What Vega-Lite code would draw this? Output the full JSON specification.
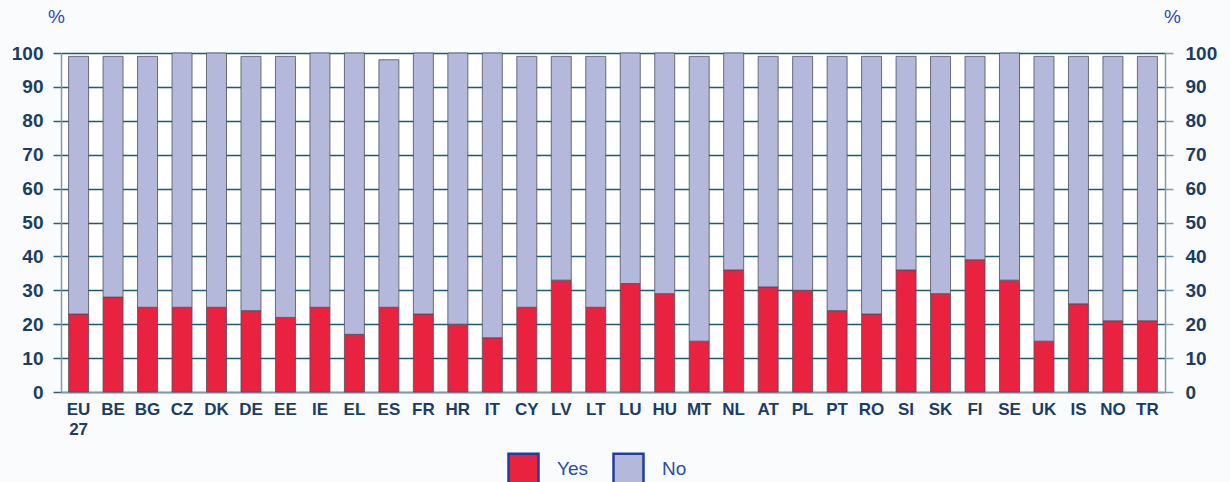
{
  "$schema": "https://vega.github.io/schema/vega-lite/v6.json",
  "width": 1104,
  "height": 339,
  "autosize": {"type": "none"},
  "padding": {"left": 61, "top": 53, "right": 65, "bottom": 90},
  "background": "#fafbfd",
  "config": {
    "view": {"stroke": null, "fill": "#ffffff"},
    "font": "Liberation Sans"
  },
  "data": {
    "values": [
      {"c": "EU|27", "Yes": 23, "No": 76},
      {"c": "BE", "Yes": 28, "No": 71},
      {"c": "BG", "Yes": 25, "No": 74},
      {"c": "CZ", "Yes": 25, "No": 75},
      {"c": "DK", "Yes": 25, "No": 75},
      {"c": "DE", "Yes": 24, "No": 75},
      {"c": "EE", "Yes": 22, "No": 77},
      {"c": "IE", "Yes": 25, "No": 75},
      {"c": "EL", "Yes": 17, "No": 83},
      {"c": "ES", "Yes": 25, "No": 73},
      {"c": "FR", "Yes": 23, "No": 77},
      {"c": "HR", "Yes": 20, "No": 80},
      {"c": "IT", "Yes": 16, "No": 84},
      {"c": "CY", "Yes": 25, "No": 74},
      {"c": "LV", "Yes": 33, "No": 66},
      {"c": "LT", "Yes": 25, "No": 74},
      {"c": "LU", "Yes": 32, "No": 68},
      {"c": "HU", "Yes": 29, "No": 71},
      {"c": "MT", "Yes": 15, "No": 84},
      {"c": "NL", "Yes": 36, "No": 64},
      {"c": "AT", "Yes": 31, "No": 68},
      {"c": "PL", "Yes": 30, "No": 69},
      {"c": "PT", "Yes": 24, "No": 75},
      {"c": "RO", "Yes": 23, "No": 76},
      {"c": "SI", "Yes": 36, "No": 63},
      {"c": "SK", "Yes": 29, "No": 70},
      {"c": "FI", "Yes": 39, "No": 60},
      {"c": "SE", "Yes": 33, "No": 67},
      {"c": "UK", "Yes": 15, "No": 84},
      {"c": "IS", "Yes": 26, "No": 73},
      {"c": "NO", "Yes": 21, "No": 78},
      {"c": "TR", "Yes": 21, "No": 78}
    ]
  },
  "transform": [{"fold": ["Yes", "No"], "as": ["series", "value"]}],
  "layer": [
    {
      "mark": {"type": "bar", "stroke": "#4a4f60", "strokeWidth": 0.8},
      "encoding": {
        "x": {
          "field": "c",
          "type": "nominal",
          "sort": null,
          "scale": {"paddingInner": 0.42, "paddingOuter": 0.22},
          "axis": {
            "title": null,
            "labelAngle": 0,
            "labelExpr": "split(datum.value, '|')",
            "labelFont": "Liberation Sans",
            "labelFontWeight": "bold",
            "labelFontSize": 17,
            "labelColor": "#1b3d63",
            "labelLineHeight": 20,
            "labelPadding": 9,
            "labelBaseline": "top",
            "ticks": false,
            "domainColor": "#7f9aa8",
            "domainWidth": 1.5
          }
        },
        "y": {
          "field": "value",
          "type": "quantitative",
          "stack": "zero",
          "scale": {"domain": [0, 100], "nice": false},
          "axis": {
            "orient": "left",
            "values": [0, 10, 20, 30, 40, 50, 60, 70, 80, 90, 100],
            "title": "%",
            "titleAngle": 0,
            "titleX": -5,
            "titleY": -27,
            "titleAlign": "center",
            "titleBaseline": "bottom",
            "titleFont": "Liberation Sans",
            "titleFontWeight": "normal",
            "titleFontSize": 19,
            "titleColor": "#2c4ca6",
            "labelFont": "Liberation Sans",
            "labelFontWeight": "bold",
            "labelFontSize": 19,
            "labelColor": "#1b3d63",
            "labelPadding": 10,
            "tickSize": 8,
            "tickColor": "#2a6079",
            "tickWidth": 1.5,
            "grid": true,
            "gridColor": "#1f5a74",
            "gridWidth": 1.5,
            "domainColor": "#7f9aa8",
            "domainWidth": 1.5
          }
        },
        "color": {
          "field": "series",
          "type": "nominal",
          "scale": {"domain": ["Yes", "No"], "range": ["#e8223f", "#b4b9dc"]},
          "legend": {
            "title": null,
            "orient": "none",
            "direction": "horizontal",
            "legendX": 446,
            "legendY": 399,
            "padding": 0,
            "symbolType": "square",
            "symbolSize": 900,
            "symbolStrokeColor": "#1f3f9a",
            "symbolStrokeWidth": 2.5,
            "symbolOpacity": 1,
            "labelOffset": 17,
            "columnPadding": 20,
            "labelFont": "Liberation Sans",
            "labelFontSize": 19,
            "labelColor": "#2c4ca6"
          }
        },
        "order": {"field": "series", "sort": "descending"}
      }
    },
    {
      "mark": {"type": "rule", "opacity": 0},
      "encoding": {
        "y": {
          "field": "value",
          "type": "quantitative",
          "scale": {"domain": [0, 100], "nice": false},
          "axis": {
            "orient": "right",
            "values": [0, 10, 20, 30, 40, 50, 60, 70, 80, 90, 100],
            "title": "%",
            "titleAngle": 0,
            "titleX": 7,
            "titleY": -27,
            "titleAlign": "center",
            "titleBaseline": "bottom",
            "titleFont": "Liberation Sans",
            "titleFontWeight": "normal",
            "titleFontSize": 19,
            "titleColor": "#2c4ca6",
            "labelFont": "Liberation Sans",
            "labelFontWeight": "bold",
            "labelFontSize": 19,
            "labelColor": "#1b3d63",
            "labelPadding": 12,
            "tickSize": 8,
            "tickColor": "#7f9aa8",
            "tickWidth": 1.5,
            "grid": false,
            "domainColor": "#7f9aa8",
            "domainWidth": 1.5
          }
        }
      }
    }
  ],
  "resolve": {"scale": {"y": "independent"}}
}
